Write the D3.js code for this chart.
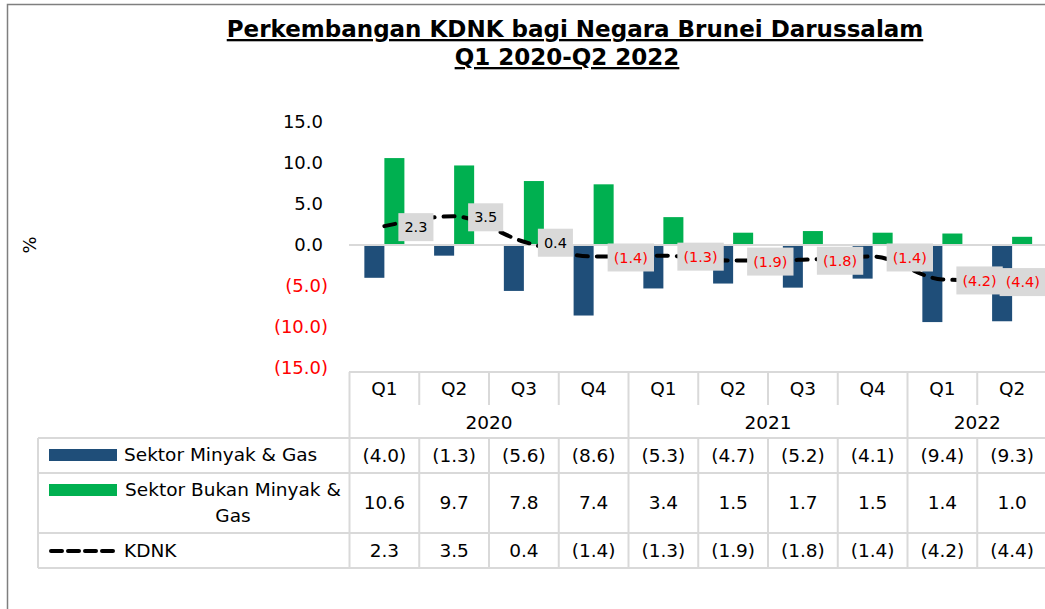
<!DOCTYPE html>
<html>
<head>
<meta charset="utf-8">
<script src="https://cdn.jsdelivr.net/npm/d3@7"></script>
<style>
  body { margin: 0; background: #fff; }
  svg { display: block; font-family: "DejaVu Sans", Verdana, sans-serif; }
</style>
</head>
<body>
<svg id="chart" width="1045" height="609"></svg>
<script>
// chart data
const quarters = ["Q1", "Q2", "Q3", "Q4", "Q1", "Q2", "Q3", "Q4", "Q1", "Q2"];
const years = ["2020", "2021", "2022"];
const yearSpans = [4, 4, 2];
const minyak = [-4.0, -1.3, -5.6, -8.6, -5.3, -4.7, -5.2, -4.1, -9.4, -9.3];
const bukanMinyak = [10.6, 9.7, 7.8, 7.4, 3.4, 1.5, 1.7, 1.5, 1.4, 1.0];
const kdnk = [2.3, 3.5, 0.4, -1.4, -1.3, -1.9, -1.8, -1.4, -4.2, -4.4];
const yTicks = [15, 10, 5, 0, -5, -10, -15];
const seriesNames = ["Sektor Minyak & Gas", "Sektor Bukan Minyak & Gas", "KDNK"];
const titleLines = ["Perkembangan KDNK bagi Negara Brunei Darussalam", "Q1 2020-Q2 2022"];

const blue = "#1f4e79", green = "#00b050", grid = "#d9d9d9";

// number format like excel: 1.0 / (1.0)
function fmt(v) {
    let s = Math.abs(v).toFixed(1);
    return v < 0 ? "(" + s + ")" : s;
}

const svg = d3.select("#chart");

// outer frame
svg.append("path")
    .attr("d", "M7.5,609 V4.5 H1045")
    .attr("fill", "none")
    .attr("stroke", "#7f7f7f")
    .attr("stroke-width", 1.5);

// title
svg.selectAll(".title")
    .data(titleLines)
    .enter().append("text")
    .attr("class", "title")
    .attr("x", (d, i) => i === 0 ? 575 : 567)
    .attr("y", (d, i) => 37 + i * 28)
    .attr("text-anchor", "middle")
    .attr("font-weight", "bold")
    .attr("font-size", 23)
    .attr("text-decoration", "underline")
    .text(d => d);

const idx = d3.range(quarters.length);
const x = d3.scaleBand().domain(idx).range([349.5, 1047]).padding(0);
const y = d3.scaleLinear().domain([-15, 15]).range([368, 122]);
const barW = x.bandwidth() * 0.287;

// y axis
const yAxis = svg.append("g")
    .attr("transform", "translate(328,0)")
    .call(d3.axisLeft(y).tickValues(yTicks).tickSize(0).tickPadding(0).tickFormat(fmt));
yAxis.select(".domain").remove();
yAxis.selectAll("text")
    .attr("font-family", "DejaVu Sans, Verdana, sans-serif")
    .attr("font-size", 18)
    .attr("fill", d => d < 0 ? "#ff0000" : "#000")
    .attr("dx", d => d < 0 ? 0 : -5);

svg.append("text")
    .attr("transform", "translate(36,245) rotate(-90)")
    .attr("text-anchor", "middle")
    .attr("font-size", 18)
    .text("%");

// bars
svg.selectAll(".bar-minyak")
    .data(minyak)
    .enter().append("rect")
    .attr("class", "bar-minyak")
    .attr("x", (d, i) => x(i) + x.bandwidth() / 2 - barW)
    .attr("y", d => y(Math.max(0, d)))
    .attr("width", barW)
    .attr("height", d => Math.abs(y(d) - y(0)))
    .attr("fill", blue);

svg.selectAll(".bar-bukan")
    .data(bukanMinyak)
    .enter().append("rect")
    .attr("class", "bar-bukan")
    .attr("x", (d, i) => x(i) + x.bandwidth() / 2)
    .attr("y", d => y(Math.max(0, d)))
    .attr("width", barW)
    .attr("height", d => Math.abs(y(d) - y(0)))
    .attr("fill", green);

// zero line
svg.append("line")
    .attr("x1", 349).attr("x2", 1045)
    .attr("y1", y(0)).attr("y2", y(0))
    .attr("stroke", grid)
    .attr("stroke-width", 2);

// KDNK line
const line = d3.line()
    .x((d, i) => x(i) + x.bandwidth() / 2)
    .y(d => y(d))
    .curve(d3.curveMonotoneX);

svg.append("path")
    .datum(kdnk)
    .attr("d", line)
    .attr("fill", "none")
    .attr("stroke", "#000")
    .attr("stroke-width", 4)
    .attr("stroke-dasharray", "11,9")
    .attr("stroke-linecap", "round");

// data labels
const labels = svg.selectAll(".lbl")
    .data(kdnk)
    .enter().append("g")
    .attr("class", "lbl");

labels.each(function (d, i) {
    let g = d3.select(this);
    let t = g.append("text")
        .attr("font-size", 14.5)
        .attr("fill", d < 0 ? "#ff0000" : "#000")
        .attr("dy", "0.35em")
        .text(fmt(d));
    let w = t.node().getComputedTextLength() + 12;
    let h = 28;
    let bx = Math.min(x(i) + x.bandwidth() / 2 + 14, 1046 - w);
    let cy = y(d) + 1;
    g.insert("rect", "text")
        .attr("x", bx).attr("y", cy - h / 2)
        .attr("width", w).attr("height", h)
        .attr("fill", "#d9d9d9");
    t.attr("x", bx + 6).attr("y", cy);
});

// data table
const table = svg.append("g").attr("font-size", 18.5);
const rowTop = [372, 405, 438, 473, 533, 568];
const tableLeft = 38, tableRight = 1047;

// column cells
table.selectAll(".q")
    .data(quarters)
    .enter().append("text")
    .attr("x", (d, i) => x(i) + x.bandwidth() / 2)
    .attr("y", (rowTop[0] + rowTop[1]) / 2)
    .attr("dy", "0.35em")
    .attr("text-anchor", "middle")
    .text(d => d);

let start = 0;
const yearPos = yearSpans.map(n => { let s = start; start += n; return [s, start]; });

table.selectAll(".yr")
    .data(years)
    .enter().append("text")
    .attr("x", (d, i) => (x(yearPos[i][0]) + x(yearPos[i][1] - 1) + x.bandwidth()) / 2)
    .attr("y", (rowTop[1] + rowTop[2]) / 2 + 1)
    .attr("dy", "0.35em")
    .attr("text-anchor", "middle")
    .text(d => d);

const rows = [minyak, bukanMinyak, kdnk];
rows.forEach((vals, r) => {
    table.selectAll(".v" + r)
        .data(vals)
        .enter().append("text")
        .attr("x", (d, i) => x(i) + x.bandwidth() / 2)
        .attr("y", (rowTop[r + 2] + rowTop[r + 3]) / 2)
        .attr("dy", "0.35em")
        .attr("text-anchor", "middle")
        .text(d => fmt(d));
});

// grid lines
const gl = table.append("g").attr("stroke", grid).attr("stroke-width", 2);
gl.append("line").attr("x1", 349).attr("x2", tableRight).attr("y1", rowTop[0]).attr("y2", rowTop[0]);
rowTop.slice(2).forEach(ry => {
    gl.append("line").attr("x1", tableLeft).attr("x2", tableRight).attr("y1", ry).attr("y2", ry);
});
gl.append("line").attr("x1", tableLeft).attr("x2", tableLeft).attr("y1", rowTop[2]).attr("y2", rowTop[5]);
const yearBounds = yearPos.map(p => p[1]);
d3.range(quarters.length + 1).forEach(k => {
    let bx = k < quarters.length ? x(k) : tableRight;
    let full = k === 0 || yearBounds.includes(k);
    if (full) {
        gl.append("line").attr("x1", bx).attr("x2", bx).attr("y1", rowTop[0]).attr("y2", rowTop[5]);
    } else {
        gl.append("line").attr("x1", bx).attr("x2", bx).attr("y1", rowTop[0]).attr("y2", rowTop[1]);
        gl.append("line").attr("x1", bx).attr("x2", bx).attr("y1", rowTop[2]).attr("y2", rowTop[5]);
    }
});

// legend keys in the table
const keyX = 49, keyW = 68;
table.append("rect").attr("x", keyX).attr("y", 449).attr("width", keyW).attr("height", 12).attr("fill", blue);
table.append("rect").attr("x", keyX).attr("y", 484).attr("width", keyW).attr("height", 12).attr("fill", green);
table.append("line")
    .attr("x1", keyX + 2).attr("x2", keyX + keyW)
    .attr("y1", 551).attr("y2", 551)
    .attr("stroke", "#000").attr("stroke-width", 4)
    .attr("stroke-dasharray", "11,6").attr("stroke-linecap", "round");

// legend names, wrapped to the cell width
const nameX = 124, nameW = 222;
const nameY = [455, 490, 551];
seriesNames.forEach((name, r) => {
    let t = table.append("text").attr("y", nameY[r]).attr("dy", "0.35em");
    let words = name.split(" ");
    let lines = [], cur = "";
    let probe = table.append("text").attr("visibility", "hidden");
    words.forEach(wd => {
        let test = cur ? cur + " " + wd : wd;
        probe.text(test);
        if (probe.node().getComputedTextLength() > nameW && cur) {
            lines.push(cur);
            cur = wd;
        } else {
            cur = test;
        }
    });
    lines.push(cur);
    probe.remove();
    if (lines.length === 1) {
        t.attr("x", nameX).text(lines[0]);
    } else {
        t.attr("text-anchor", "middle");
        lines.forEach((ln, j) => {
            t.append("tspan")
                .attr("x", nameX + nameW / 2 - 2)
                .attr("dy", j === 0 ? "0.35em" : 26)
                .text(ln);
        });
    }
});
</script>
</body>
</html>
